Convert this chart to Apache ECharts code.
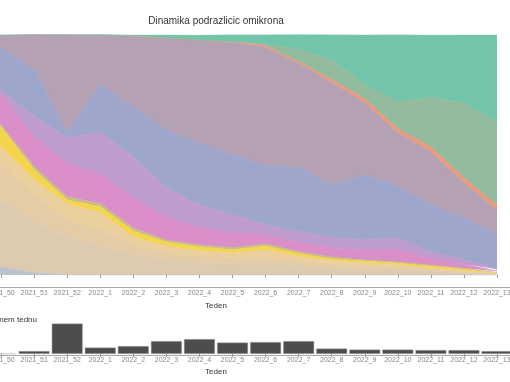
<!DOCTYPE html>
<html><head><meta charset="utf-8">
<script src="https://cdn.jsdelivr.net/npm/echarts@6/dist/echarts.min.js"></script>
<style>html,body{margin:0;padding:0;background:#fff}#c{width:510px;height:382px}</style>
</head><body><div id="c"></div>
<script>
// weeks (first two are outside the visible crop of the reference)
const weeks = ['2021_48','2021_49','2021_50','2021_51','2021_52','2022_1','2022_2','2022_3','2022_4','2022_5','2022_6','2022_7','2022_8','2022_9','2022_10','2022_11','2022_12','2022_13'];

// shares of sub-lineages per week (%), bottom to top of the stack
const linB11529 = [14.6, 8.3, 3.3, 0.8, 0, 0, 0, 0, 0, 0, 0, 0, 0, 0, 0, 0, 0, 0];
const linBA117  = [33.3, 31.3, 27.9, 21.3, 15.8, 12.1, 8.3, 5.8, 5.0, 4.6, 4.6, 3.8, 2.9, 2.5, 2.1, 1.7, 0.8, 0.2];
const linBA1172 = [16.7, 16.7, 15.4, 11.3, 7.1, 6.7, 4.2, 3.3, 2.9, 2.5, 2.9, 1.7, 1.3, 0.8, 0.8, 0.4, 0.4, 0.2];
const linBA115  = [6.3, 6.3, 6.7, 6.3, 6.7, 7.1, 3.3, 2.9, 2.1, 2.1, 2.9, 2.1, 1.7, 1.7, 1.3, 0.8, 0.4, 0.1];
const linBA111  = [4.2, 7.1, 8.3, 4.2, 1.7, 2.5, 2.5, 1.7, 1.7, 1.3, 1.7, 1.3, 0.8, 0.8, 0.8, 0.8, 0.8, 0.2];
const linBA113  = [0.8, 0.8, 0.8, 1.3, 1.3, 1.3, 1.3, 0.8, 0.8, 0.8, 0.8, 0.8, 0.8, 0.4, 0.4, 0.4, 0.4, 0.3];
const linBA118  = [15.8, 15.0, 12.5, 12.5, 13.8, 12.5, 12.5, 9.6, 7.1, 6.3, 3.8, 3.8, 3.8, 4.2, 5.0, 2.9, 1.7, 0.6];
const linBA1114 = [0.8, 0.8, 2.1, 8.3, 10.8, 17.1, 17.1, 12.1, 9.5, 7.5, 4.2, 4.6, 4.2, 4.2, 5.0, 2.5, 1.7, 0.8];
const linBA1    = [6.7, 11.7, 17.9, 19.6, 2.1, 20.0, 20.8, 24.2, 25.8, 25.0, 24.6, 26.7, 22.1, 27.1, 21.7, 19.6, 17.5, 14.6];
const linBA11   = [0.8, 2.1, 5.0, 14.6, 40.8, 20.8, 29.6, 38.3, 42.9, 46.7, 49.4, 43.3, 42.5, 30.0, 22.1, 22.1, 14.6, 10.0];
const linBA23   = [0, 0, 0, 0, 0, 0, 0, 0, 0, 0.4, 0.6, 0.8, 1.3, 1.7, 1.7, 2.1, 2.1, 2.1];
const linBA29   = [0, 0, 0, 0, 0, 0, 0, 0, 0, 0, 0.8, 5.0, 8.3, 5.8, 11.3, 20.8, 31.3, 34.6];
const linBA2    = [0, 0, 0, 0, 0, 0, 0.4, 1.3, 2.1, 2.9, 3.8, 6.3, 10.4, 20.8, 27.9, 25.8, 28.3, 36.3];

// number of sequenced samples per week
const samples = [5, 8, 10, 60, 610, 130, 160, 260, 300, 230, 240, 260, 110, 90, 90, 80, 80, 60];

const layers = [
  ['B.1.1.529', linB11529, '#bdc1cd'],
  ['BA.1.17', linBA117, '#dccbb0'],
  ['BA.1.17.2', linBA1172, '#e4cca6'],
  ['BA.1.15', linBA115, '#ebcf9d'],
  ['BA.1.1.1', linBA111, '#f3d64e'],
  ['BA.1.13', linBA113, '#c8bd86'],
  ['BA.1.18', linBA118, '#db8fc8'],
  ['BA.1.1.14', linBA1114, '#bf9cce'],
  ['BA.1', linBA1, '#9fa6cc'],
  ['BA.1.1', linBA11, '#b4a1b3'],
  ['BA.2.3', linBA23, '#ec9a7c'],
  ['BA.2.9', linBA29, '#93bb9e'],
  ['BA.2', linBA2, '#72c5aa']
];

const FONT = 'Liberation Sans, Arial, sans-serif';
const chart = echarts.init(document.getElementById('c'), null, {renderer: 'canvas'});

const areaSeries = layers.map(([name, data, color]) => ({
  name, type: 'line', stack: 'all', data,
  xAxisIndex: 0, yAxisIndex: 0,
  showSymbol: false, symbol: 'none',
  lineStyle: {width: 0.8, color},
  areaStyle: {color, opacity: 1},
  itemStyle: {color},
  emphasis: {disabled: true}
}));

const catLabel = {fontSize: 7, color: '#888', fontFamily: FONT, margin: 3, interval: 0};
const gridBase = {containLabel: false, outerBoundsMode: 'none'};

chart.setOption({
  animation: false,
  title: [
    {text: 'Dinamika podrazlicic omikrona', left: 211, top: 11, textAlign: 'center',
     textStyle: {fontSize: 10, fontWeight: 'normal', color: '#333', fontFamily: FONT}},
    {text: 'Število vzorcev v posameznem tednu', left: 32, top: 311, textAlign: 'right',
     textStyle: {fontSize: 8, fontWeight: 'normal', color: '#333', fontFamily: FONT}}
  ],
  grid: [
    Object.assign({left: -65, right: 13, top: 35, bottom: 107}, gridBase),
    Object.assign({left: -65, right: 13, top: 314, bottom: 28}, gridBase),
    Object.assign({left: 0, right: 0, top: 35, bottom: 95}, gridBase),
    Object.assign({left: 0, right: 0, top: 314, bottom: 27}, gridBase)
  ],
  xAxis: [
    {type: 'category', gridIndex: 0, data: weeks, boundaryGap: false, offset: 12,
     axisLine: {show: false}, axisTick: {show: true, length: 3, lineStyle: {color: '#999'}},
     axisLabel: catLabel, name: 'Teden', nameLocation: 'middle', nameGap: 14,
     nameTextStyle: {fontSize: 8, color: '#333', fontFamily: FONT}},
    {type: 'category', gridIndex: 1, data: weeks, boundaryGap: false,
     axisLine: {show: false}, axisTick: {show: true, length: 3, lineStyle: {color: '#999'}},
     axisLabel: catLabel, name: 'Teden', nameLocation: 'middle', nameGap: 14,
     nameTextStyle: {fontSize: 8, color: '#333', fontFamily: FONT}},
    {type: 'value', gridIndex: 2, min: 0, max: 1, axisLine: {show: true, lineStyle: {color: '#aaa', width: 1}},
     axisTick: {show: false}, axisLabel: {show: false}, splitLine: {show: false}},
    {type: 'value', gridIndex: 3, min: 0, max: 1, axisLine: {show: true, lineStyle: {color: '#aaa', width: 1}},
     axisTick: {show: false}, axisLabel: {show: false}, splitLine: {show: false}}
  ],
  yAxis: [
    {type: 'value', gridIndex: 0, min: 0, max: 100, show: false},
    {type: 'value', gridIndex: 1, min: 0, max: 800, show: false},
    {type: 'value', gridIndex: 2, show: false},
    {type: 'value', gridIndex: 3, show: false}
  ],
  series: areaSeries.concat([{
    name: 'Vzorci', type: 'bar', xAxisIndex: 1, yAxisIndex: 1, data: samples,
    barCategoryGap: '6%', itemStyle: {color: '#4d4d4d', borderColor: '#bbb', borderWidth: 0.5},
    emphasis: {disabled: true}
  }])
});
</script></body></html>
